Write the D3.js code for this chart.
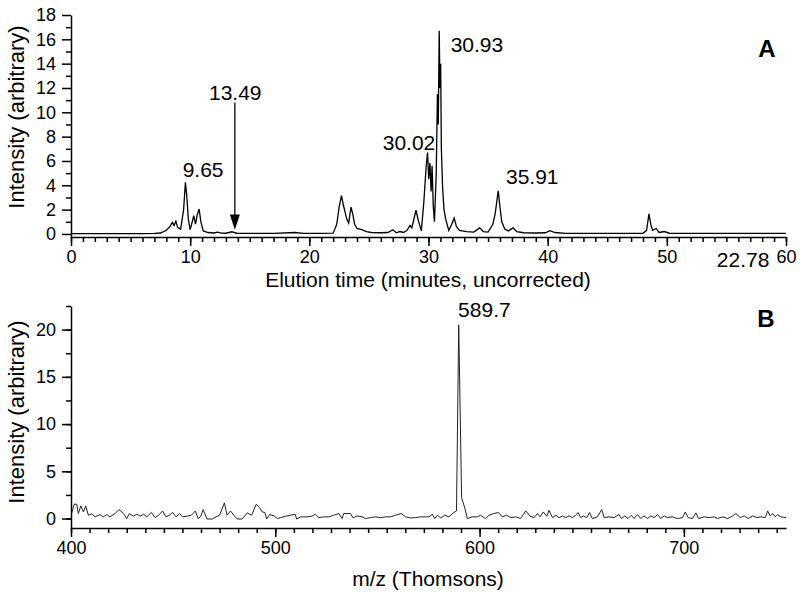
<!DOCTYPE html>
<html>
<head>
<meta charset="utf-8">
<script src="https://cdn.jsdelivr.net/npm/d3@7"></script>
<style>
  body { margin: 0; background: #fff; }
  svg text { font-family: "Liberation Sans", Arial, sans-serif; fill: #000; }
</style>
</head>
<body>
<div id="chart"></div>
<script>
// panel A: chromatogram (elution time in minutes, intensity)
const chromTime = [0, 2, 4, 6, 7, 7.5, 8.0, 8.3, 8.5, 8.65, 8.8, 8.95, 9.2, 9.45, 9.6, 9.7, 9.85, 10.0, 10.15, 10.3,
  10.45, 10.6, 10.75, 10.9, 11.1, 11.5, 12.0, 12.3, 12.6, 13.0, 13.5, 13.9, 15, 17, 18.8, 19.5, 21, 22.0, 22.3, 22.5,
  22.7, 22.85, 23.0, 23.15, 23.3, 23.5, 23.65, 23.8, 24.0, 24.4, 24.8, 25.2, 26, 26.6, 27.0, 27.3, 27.6, 27.9, 28.2, 28.45,
  28.6, 28.95, 29.15, 29.4, 29.6, 29.8, 29.92, 30.02, 30.12, 30.22, 30.3, 30.4, 30.5, 30.65, 30.75, 30.82, 30.9, 30.96, 31.02, 31.08,
  31.18, 31.3, 31.45, 31.7, 31.95, 32.15, 32.35, 32.6, 33.2, 33.8, 34.3, 34.6, 35.0, 35.4, 35.6, 35.85, 36.0, 36.15, 36.4, 36.7,
  37.1, 37.4, 38, 39, 39.8, 40.2, 40.6, 41.5, 44, 46, 48.0, 48.3, 48.5, 48.65, 48.8, 49.1, 49.35, 49.8, 50.2, 52,
  55, 58, 60];
const chromInt = [0.02, 0.02, 0.03, 0.03, 0.05, 0.08, 0.3, 0.6, 0.95, 0.7, 1.05, 0.55, 0.4, 2.0, 4.25, 3.3, 1.2, 0.35, 0.9, 1.5,
  0.8, 1.6, 2.05, 1.0, 0.25, 0.12, 0.08, 0.15, 0.07, 0.06, 0.18, 0.06, 0.04, 0.05, 0.12, 0.05, 0.04, 0.06, 0.8, 2.2,
  3.15, 2.4, 1.8, 1.2, 0.9, 2.2, 1.6, 0.8, 0.45, 0.35, 0.2, 0.12, 0.1, 0.12, 0.35, 0.1, 0.2, 0.12, 0.3, 0.7,
  0.5, 1.95, 1.1, 0.25, 2.5, 5.5, 6.7, 4.5, 5.85, 3.5, 5.6, 2.3, 1.0, 5.0, 11.5, 9.0, 16.7, 12.0, 14.0, 7.0,
  3.9, 2.0, 1.2, 0.3, 0.8, 1.3, 0.6, 0.3, 0.2, 0.15, 0.5, 0.2, 0.15, 0.8, 1.7, 3.55, 2.2, 1.0, 0.4, 0.25,
  0.5, 0.2, 0.1, 0.08, 0.1, 0.27, 0.12, 0.05, 0.04, 0.04, 0.05, 0.3, 1.65, 0.8, 0.3, 0.45, 0.12, 0.2, 0.06, 0.04,
  0.04, 0.04, 0.04];

// panel B: mass spectrum (m/z, intensity)
const mzValues = [400.3, 401.6, 402.8, 403.6, 404.8, 406.1, 407.2, 408.5, 410.1, 411.8, 414.2, 415.8, 417.5, 419.1, 421.6, 423.5,
  425.7, 427.3, 428.6, 430.6, 432.2, 433.9, 435.5, 437.1, 439.3, 441.2, 442.9, 444.8, 446.5, 448.1, 449.8, 451.4, 453.2, 454.6,
  456.8, 458.9, 460.9, 462.2, 463.4, 464.7, 466.6, 469.1, 471.0, 472.7, 475.1, 476.4, 478.1, 479.7, 481.4, 483.8, 486.3, 488.4,
  490.7, 492.3, 493.6, 494.9, 495.8, 497.2, 499.4, 501.0, 502.6, 505.1, 507.5, 509.7, 510.5, 512.4, 515.5, 518.0, 519.6, 521.3,
  523.7, 526.2, 528.6, 531.1, 532.7, 533.5, 536.8, 538.1, 540.0, 542.5, 544.1, 546.6, 549.0, 551.5, 553.9, 556.4, 558.9, 561.6,
  563.8, 566.2, 568.7, 571.1, 573.6, 575.2, 576.9, 578.0, 579.3, 581.0, 582.9, 585.0, 587.1, 588.7, 589.8, 591.2, 592.8, 594.0,
  596.4, 598.9, 600.5, 602.9, 604.6, 607.0, 609.2, 611.1, 613.3, 615.2, 617.7, 620.1, 622.6, 624.7, 626.7, 628.3, 629.6, 631.2,
  632.9, 634.0, 635.7, 637.3, 639.0, 640.6, 642.2, 643.8, 645.4, 647.1, 648.2, 649.5, 650.8, 652.5, 653.8, 655.2, 657.7, 659.8,
  661.0, 663.4, 665.8, 668.3, 669.4, 671.1, 672.7, 674.3, 675.6, 677.3, 678.9, 680.5, 682.2, 683.8, 685.5, 687.1, 688.7, 690.4,
  692.0, 694.4, 696.9, 699.3, 700.7, 702.1, 704.2, 705.9, 707.2, 710.0, 712.4, 714.9, 716.5, 719.0, 721.4, 723.9, 725.5, 727.6,
  729.6, 731.5, 733.7, 735.8, 737.7, 739.9, 741.0, 742.3, 743.5, 744.8, 745.9, 747.5, 750.0];
const mzInt = [0.53, 1.52, 1.52, 0.53, 1.34, 0.7, 1.34, 0.35, 0.5, 0.18, 0.42, 0.18, 0.42, 0.18, 0.53, 0.95,
  0.53, 0.0, 0.53, 0.25, 0.46, 0.25, 0.46, 0.18, 0.64, 0.1, 0.35, 0.8, 0.18, 0.35, 0.64, 0.18, 0.53, 0.18,
  0.25, 0.35, 0.8, 0.0, 0.18, 0.95, -0.05, -0.05, 0.18, 0.35, 1.66, 0.35, 0.8, 0.35, -0.05, -0.05, 0.6, 0.35,
  1.52, 1.17, 0.7, 0.64, -0.05, 0.42, 0.28, 0.0, 0.1, 0.25, 0.35, 0.46, -0.05, 0.18, 0.18, 0.25, 0.46, 0.1,
  0.18, 0.18, 0.35, 0.53, 0.0, 0.53, 0.53, 0.07, 0.28, 0.18, 0.0, 0.1, 0.18, 0.1, 0.18, 0.18, 0.35, 0.53,
  0.18, 0.07, 0.1, 0.18, 0.18, 0.18, 0.46, 0.0, 0.35, 0.07, 0.35, 0.18, 0.6, 0.8, 20.5, 2.2, 1.1, 0.0,
  0.18, 0.18, 0.35, 0.0, 0.35, 0.53, 0.64, 0.18, 0.35, 0.1, 0.18, 0.0, 0.81, 0.25, 0.1, 0.53, 0.18, 0.7,
  0.25, 0.88, 0.1, 0.35, 0.1, 0.28, 0.1, 0.28, 0.1, 0.35, 0.64, 0.1, 0.28, 0.1, 0.64, 0.0, 0.18, 0.95,
  0.1, 0.18, 0.1, 0.42, 0.0, 0.28, 0.0, 0.35, 0.0, 0.42, 0.0, 0.28, 0.0, 0.28, 0.1, 0.42, 0.0, 0.28,
  0.1, 0.18, 0.0, 0.1, 0.7, 0.1, 0.0, 0.6, 0.0, 0.18, 0.1, 0.18, 0.0, 0.18, 0.0, 0.28, 0.53, 0.1,
  0.28, 0.0, 0.28, 0.1, 0.18, 0.1, 0.81, 0.28, 0.53, 0.18, 0.42, 0.18, 0.1];

// tick labels
const topXTicks = [0, 10, 20, 30, 40, 50, 60];
const topYTicks = [0, 2, 4, 6, 8, 10, 12, 14, 16, 18];
const botXTicks = [400, 500, 600, 700];
const botYTicks = [0, 5, 10, 15, 20];

const topLabels = ["9.65", "13.49", "30.02", "30.93", "35.91"];
const botLabels = ["589.7"];

const width = 800, height = 594;
const svg = d3.select('#chart').append('svg')
  .attr('width', width)
  .attr('height', height);

const font = '"Liberation Sans", Arial, sans-serif';

// scales
const xTop = d3.scaleLinear().domain([0, 60]).range([71, 786]);
const yTop = d3.scaleLinear().domain([-0.25, 18]).range([237, 15]);
const xBot = d3.scaleLinear().domain([400, 750]).range([71, 786]);
const yBot = d3.scaleLinear().domain([-1, 22.5]).range([528, 306]);

function drawAxes(x, y, xTicks, xMinor, yTicks, yMinor) {
  const g = svg.append('g');
  const [y0] = y.range();
  const [x0] = x.range();

  // minor ticks first
  g.append('g')
    .attr('transform', `translate(0,${y0})`)
    .call(d3.axisBottom(x).tickValues(xMinor).tickSize(5).tickFormat(''))
    .call(a => a.select('.domain').remove());
  g.append('g')
    .attr('transform', `translate(${x0},0)`)
    .call(d3.axisLeft(y).tickValues(yMinor).tickSize(5).tickFormat(''))
    .call(a => a.select('.domain').remove());

  const xa = g.append('g')
    .attr('transform', `translate(0,${y0})`)
    .call(d3.axisBottom(x).tickValues(xTicks).tickSize(9).tickSizeOuter(0).tickPadding(4));
  const ya = g.append('g')
    .attr('transform', `translate(${x0},0)`)
    .call(d3.axisLeft(y).tickValues(yTicks).tickSize(9).tickSizeOuter(0).tickPadding(6));

  [xa, ya].forEach(a => {
    a.selectAll('text').style('font-family', font).style('font-size', '18px').attr('fill', '#000');
  });
  g.selectAll('.domain, line').attr('stroke', '#000').attr('stroke-width', 1.5);
  return g;
}

drawAxes(xTop, yTop, topXTicks, d3.range(0, 61, 1), topYTicks, d3.range(1, 18, 2));
drawAxes(xBot, yBot, botXTicks, d3.range(0, 39).map(i => 400 + i * 100 / 11), botYTicks, d3.range(0, 23, 2.5));

// curves
const lineTop = d3.line().x((d, i) => xTop(chromTime[i])).y(d => yTop(d));
svg.append('path')
  .datum(chromInt)
  .attr('d', lineTop)
  .attr('fill', 'none')
  .attr('stroke', '#000')
  .attr('stroke-width', 1.3)
  .attr('stroke-linejoin', 'miter');

const lineBot = d3.line().x((d, i) => xBot(mzValues[i])).y(d => yBot(d));
svg.append('path')
  .datum(mzInt)
  .attr('d', lineBot)
  .attr('fill', 'none')
  .attr('stroke', '#222')
  .attr('stroke-width', 1);

// axis titles
svg.append('text')
  .attr('x', 428).attr('y', 287)
  .attr('text-anchor', 'middle')
  .style('font-size', '21px')
  .text('Elution time (minutes, uncorrected)');
svg.append('text')
  .attr('x', 428).attr('y', 586)
  .attr('text-anchor', 'middle')
  .style('font-size', '21px')
  .text('m/z (Thomsons)');
[117, 412].forEach(cy => {
  svg.append('text')
    .attr('transform', `translate(24,${cy}) rotate(-90)`)
    .attr('text-anchor', 'middle')
    .style('font-size', '22px')
    .text('Intensity (arbitrary)');
});

// panel letters
svg.append('text').attr('x', 767).attr('y', 57).attr('text-anchor', 'middle')
  .style('font-size', '24px').style('font-weight', 'bold').text('A');
svg.append('text').attr('x', 766).attr('y', 327).attr('text-anchor', 'middle')
  .style('font-size', '24px').style('font-weight', 'bold').text('B');

// stray label beside the 60 tick
svg.append('text').attr('x', xTop(56.4)).attr('y', 267).attr('text-anchor', 'middle')
  .style('font-size', '21px').text('22.78');

// peak labels (start-anchored, data coords)
const topPos = [[9.37, 4.68], [11.58, 11.0], [26.16, 6.9], [31.86, 14.96], [36.5, 4.1]];
topLabels.forEach((t, i) => {
  svg.append('text')
    .attr('x', xTop(topPos[i][0]))
    .attr('y', yTop(topPos[i][1]))
    .style('font-size', '21px')
    .text(t);
});
botLabels.forEach(t => {
  svg.append('text')
    .attr('x', xBot(589.5))
    .attr('y', yBot(21.3))
    .style('font-size', '21px')
    .text(t);
});

// arrow marking 13.49
const ax = xTop(13.75);
svg.append('line')
  .attr('x1', ax).attr('x2', ax)
  .attr('y1', yTop(10.8)).attr('y2', yTop(1.3))
  .attr('stroke', '#000').attr('stroke-width', 1.3);
svg.append('path')
  .attr('d', `M${ax - 5},${yTop(1.6)} L${ax + 5},${yTop(1.6)} L${ax},${yTop(0.35)} Z`)
  .attr('fill', '#000');
</script>
</body>
</html>
